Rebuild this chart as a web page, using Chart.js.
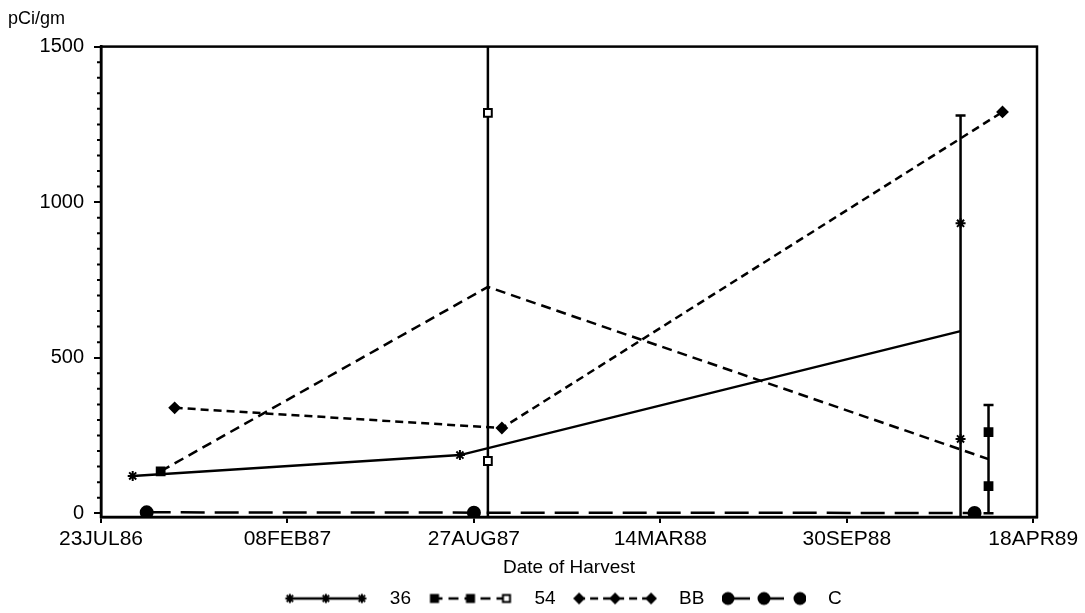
<!DOCTYPE html>
<html>
<head>
<meta charset="utf-8">
<title>pCi/gm by date of harvest</title>
<script src="https://cdn.jsdelivr.net/npm/chart.js@4.4.0/dist/chart.umd.min.js"></script>
<style>
  html, body { margin: 0; padding: 0; background: #fff; }
  canvas { display: block; }
</style>
</head>
<body>
<canvas id="harvestChart" width="1085" height="613"></canvas>
<script>
var seriesNames = ['36', '54', 'BB', 'C'];

var tickDates = ['1986-07-23', '1987-02-08', '1987-08-27', '1988-03-14', '1988-09-30', '1989-04-18'];
var tickLabels = ['23JUL86', '08FEB87', '27AUG87', '14MAR88', '30SEP88', '18APR89'];
var axisStart = '1986-07-23';
var axisEnd = '1989-04-22';

// harvest dates for each plot (three harvests each)
var dates36 = ['1986-08-26', '1987-08-12', '1989-01-30'];
var dates54 = ['1986-09-25', '1987-09-11', '1989-03-01'];
var datesBB = ['1986-10-10', '1987-09-26', '1989-03-16'];
var datesC  = ['1986-09-10', '1987-08-27', '1989-02-14'];

// measured activity, pCi/gm, one list per harvest
var obs36 = [[120], [187], [932, 239]];
var obs54 = [[135], [1287, 168], [261, 87]];
var obsBB = [[339], [274], [1290]];
var obsC  = [[3], [2], [1]];

var yTicks = [0, 500, 1000, 1500];
var yMin = -12, yMax = 1500, yMinorStep = 50;

var dayMs = 86400000;
function dayOf(s) {
    var p = s.split('-').map(Number);
    var a = axisStart.split('-').map(Number);
    return (Date.UTC(p[0], p[1] - 1, p[2]) - Date.UTC(a[0], a[1] - 1, a[2])) / dayMs;
}
function mean(a) {
    return a.reduce(function (s, v) { return s + v; }, 0) / a.length;
}
// two standard deviations around the mean
function spread(a) {
    var m = mean(a);
    var v = a.reduce(function (s, x) { return s + (x - m) * (x - m); }, 0) / a.length;
    return 2 * Math.sqrt(v);
}

var groups = [
    { dates: dates36, obs: obs36 },
    { dates: dates54, obs: obs54 },
    { dates: datesBB, obs: obsBB },
    { dates: datesC,  obs: obsC }
];

var styles = [
    { dash: [],       point: 'star',    radius: 5,   hollow: [] },
    { dash: [10, 6],  point: 'rect',    radius: 5.5, hollow: [1] },
    { dash: [8, 5],   point: 'rectRot', radius: 5,   hollow: [] },
    { dash: [24, 10], point: 'circle',  radius: 6,   hollow: [] }
];

var family = "'Liberation Sans', Arial, Helvetica, sans-serif";
var font = { family: family, size: 20 };
var xFont = { family: family, size: 21 };
var smallFont = { family: family, size: 19 };

function legendSample(st) {
    var c = document.createElement('canvas');
    c.width = 84; c.height = 16;
    var g = c.getContext('2d');
    g.strokeStyle = '#000';
    g.lineWidth = 2.5;
    g.setLineDash(st.dash);
    g.beginPath(); g.moveTo(4, 8); g.lineTo(80, 8); g.stroke();
    g.setLineDash([]);
    g.lineWidth = 2;
    [6, 42, 78].forEach(function (x, i) {
        g.fillStyle = (st.point === 'rect' && i === 2) ? '#fff' : '#000';
        Chart.helpers.drawPoint(g, { pointStyle: st.point, radius: st.radius - 0.5, borderWidth: 2 }, x, 8);
    });
    return c;
}

var datasets = [];
var errorBars = [];
groups.forEach(function (grp, s) {
    var st = styles[s];
    var meanPts = grp.dates.map(function (d, i) {
        return { x: dayOf(d), y: mean(grp.obs[i]) };
    });
    datasets.push({
        label: seriesNames[s],
        data: meanPts,
        showLine: true,
        borderColor: '#000',
        borderWidth: 2.5,
        borderDash: st.dash,
        pointRadius: 0,
        fill: false
    });
    var obsPts = [], fills = [];
    grp.dates.forEach(function (d, i) {
        grp.obs[i].forEach(function (v) {
            obsPts.push({ x: dayOf(d), y: v });
            fills.push(st.hollow.indexOf(i) >= 0 ? '#fff' : '#000');
        });
        if (grp.obs[i].length > 1) {
            var m = mean(grp.obs[i]), e = spread(grp.obs[i]);
            errorBars.push({ x: dayOf(d), lo: m - e, hi: m + e });
        }
    });
    datasets.push({
        label: seriesNames[s] + ' obs',
        data: obsPts,
        showLine: false,
        pointStyle: st.point,
        pointRadius: st.radius,
        pointBorderWidth: 2,
        pointBorderColor: '#000',
        pointBackgroundColor: fills
    });
});

// frame, minor y ticks, error bars; legend row nudged right and down
var extras = {
    id: 'extras',
    afterLayout: function (chart) {
        chart.legend.left += 34;
        chart.legend.right += 34;
        chart.legend.top += 5;
        chart.legend.bottom += 5;
    },
    beforeDatasetsDraw: function (chart) {
        var ctx = chart.ctx;
        var xs = chart.scales.x, ys = chart.scales.y;
        ctx.save();
        ctx.strokeStyle = '#000';
        ctx.lineWidth = 2.5;
        errorBars.forEach(function (b) {
            var x = xs.getPixelForValue(b.x);
            var lo = Math.max(b.lo, yMin), hi = Math.min(b.hi, yMax);
            ctx.beginPath();
            ctx.moveTo(x, ys.getPixelForValue(lo));
            ctx.lineTo(x, ys.getPixelForValue(hi));
            if (b.lo >= yMin) {
                ctx.moveTo(x - 5, ys.getPixelForValue(lo));
                ctx.lineTo(x + 5, ys.getPixelForValue(lo));
            }
            if (b.hi <= yMax) {
                ctx.moveTo(x - 5, ys.getPixelForValue(hi));
                ctx.lineTo(x + 5, ys.getPixelForValue(hi));
            }
            ctx.stroke();
        });
        ctx.restore();
    },
    afterDraw: function (chart) {
        var ctx = chart.ctx, a = chart.chartArea, ys = chart.scales.y;
        ctx.save();
        ctx.strokeStyle = '#000';
        ctx.lineWidth = 2.5;
        ctx.strokeRect(a.left, a.top, a.right - a.left, a.bottom - a.top);
        ctx.lineWidth = 2;
        ctx.beginPath();
        for (var v = yMinorStep; v < yMax; v += yMinorStep) {
            if (yTicks.indexOf(v) >= 0) continue;
            var y = ys.getPixelForValue(v);
            ctx.moveTo(a.left - 4, y);
            ctx.lineTo(a.left, y);
        }
        ctx.stroke();
        ctx.restore();
    }
};

var harvestChart = new Chart(document.getElementById('harvestChart').getContext('2d'), {
    type: 'scatter',
    data: { datasets: datasets },
    plugins: [extras],
    options: {
        responsive: false,
        animation: false,
        devicePixelRatio: 1,
        layout: { padding: { left: 8, right: 48, top: 0, bottom: 0 } },
        plugins: {
            tooltip: { enabled: false },
            title: {
                display: true,
                text: 'pCi/gm',
                align: 'start',
                color: '#000',
                font: { family: family, size: 18, weight: 'normal' },
                padding: { top: 8, bottom: 17 }
            },
            legend: {
                position: 'bottom',
                labels: {
                    usePointStyle: true,
                    pointStyleWidth: 109,
                    boxHeight: 16,
                    padding: 5,
                    color: '#000',
                    font: smallFont,
                    generateLabels: function () {
                        return seriesNames.map(function (n, s) {
                            return {
                                text: n,
                                pointStyle: legendSample(styles[s]),
                                fillStyle: '#000',
                                strokeStyle: '#000',
                                lineWidth: 0,
                                fontColor: '#000',
                                datasetIndex: s * 2
                            };
                        });
                    }
                }
            }
        },
        scales: {
            x: {
                type: 'linear',
                min: dayOf(axisStart),
                max: dayOf(axisEnd),
                afterBuildTicks: function (scale) {
                    scale.ticks = tickDates.map(function (d) { return { value: dayOf(d) }; });
                },
                ticks: {
                    color: '#000',
                    font: xFont,
                    maxRotation: 0,
                    autoSkip: false,
                    padding: 4,
                    callback: function (v) {
                        var i = tickDates.map(dayOf).indexOf(v);
                        return i >= 0 ? tickLabels[i] : '';
                    }
                },
                grid: { drawOnChartArea: false, tickLength: 6, color: '#000', lineWidth: 2 },
                border: { color: '#000', width: 2.5 },
                title: { display: true, text: 'Date of Harvest', color: '#000', font: smallFont, padding: { top: 0, bottom: 0 } }
            },
            y: {
                min: yMin,
                max: yMax,
                afterBuildTicks: function (scale) {
                    scale.ticks = yTicks.map(function (v) { return { value: v }; });
                },
                ticks: {
                    color: '#000',
                    font: font,
                    padding: 10,
                    callback: function (v) { return String(v); }
                },
                grid: { drawOnChartArea: false, tickLength: 7, color: '#000', lineWidth: 2 },
                border: { color: '#000', width: 2.5 },
                afterFit: function (scale) { scale.width = 93; }
            }
        }
    }
});
</script>
</body>
</html>
